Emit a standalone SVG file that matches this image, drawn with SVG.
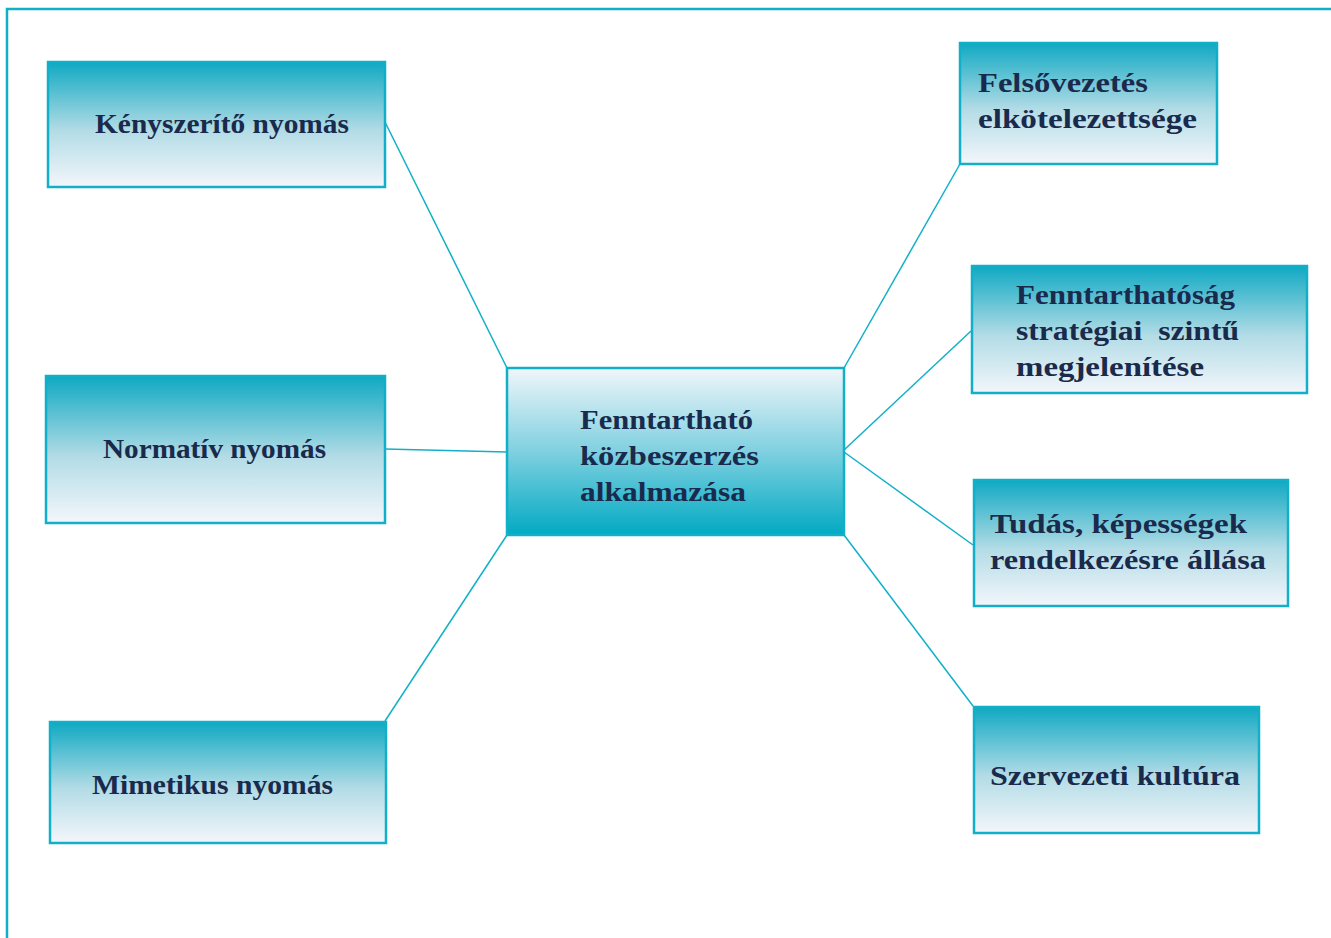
<svg xmlns="http://www.w3.org/2000/svg" width="1331" height="938" viewBox="0 0 1331 938">
<defs>
<linearGradient id="gs" x1="0" y1="0" x2="0" y2="1">
<stop offset="0" stop-color="#0FA9C3"/>
<stop offset="0.55" stop-color="#B3DCE6"/>
<stop offset="1" stop-color="#F3F6FB"/>
</linearGradient>
<linearGradient id="gc" x1="0" y1="0" x2="0" y2="1">
<stop offset="0" stop-color="#F0F6FA"/>
<stop offset="0.5" stop-color="#7FD0E0"/>
<stop offset="1" stop-color="#02AAC3"/>
</linearGradient>
<style>
.box{stroke:#12B0C8;stroke-width:2.5}
.side{fill:url(#gs)}
.ctr{fill:url(#gc)}
.t{font-family:"Liberation Serif","DejaVu Serif",serif;font-weight:bold;font-size:28px;fill:#1A2A4C}
.c{stroke:#12B0C8;stroke-width:1.5;fill:none}
</style>
</defs>
<rect width="1331" height="938" fill="#FFFFFF"/>
<path d="M7,938 V9 H1331" fill="none" stroke="#12B0C8" stroke-width="2.5"/>
<g id="connectors">
<line class="c" x1="385" y1="122" x2="507" y2="368"/>
<line class="c" x1="385" y1="449" x2="507" y2="452"/>
<line class="c" x1="385" y1="721" x2="507" y2="535"/>
<line class="c" x1="844" y1="368" x2="960" y2="164"/>
<line class="c" x1="844" y1="450" x2="971" y2="331"/>
<line class="c" x1="844" y1="452" x2="973" y2="545"/>
<line class="c" x1="844" y1="535" x2="973" y2="706"/>
</g>
<g id="node-kenyszerito">
<rect class="box side" x="48" y="62" width="337" height="125"/>
<text class="t" x="95" y="133" textLength="254" lengthAdjust="spacingAndGlyphs">Kényszerítő nyomás</text>
</g>
<g id="node-normativ">
<rect class="box side" x="46" y="376" width="339" height="147"/>
<text class="t" x="103" y="458" textLength="223" lengthAdjust="spacingAndGlyphs">Normatív nyomás</text>
</g>
<g id="node-mimetikus">
<rect class="box side" x="50" y="722" width="336" height="121"/>
<text class="t" x="92" y="794" textLength="241" lengthAdjust="spacingAndGlyphs">Mimetikus nyomás</text>
</g>
<g id="node-center">
<rect class="box ctr" x="507" y="368" width="337" height="167"/>
<text class="t" x="580" y="429" textLength="173" lengthAdjust="spacingAndGlyphs">Fenntartható</text>
<text class="t" x="580" y="465" textLength="179" lengthAdjust="spacingAndGlyphs">közbeszerzés</text>
<text class="t" x="580" y="501" textLength="166" lengthAdjust="spacingAndGlyphs">alkalmazása</text>
</g>
<g id="node-felsovezetes">
<rect class="box side" x="960" y="43" width="257" height="121"/>
<text class="t" x="978" y="92" textLength="170" lengthAdjust="spacingAndGlyphs">Felsővezetés</text>
<text class="t" x="978" y="128" textLength="219" lengthAdjust="spacingAndGlyphs">elkötelezettsége</text>
</g>
<g id="node-fenntarthatosag">
<rect class="box side" x="972" y="266" width="335" height="127"/>
<text class="t" x="1016" y="304" textLength="219" lengthAdjust="spacingAndGlyphs">Fenntarthatóság</text>
<text class="t" x="1016" y="340" textLength="223" lengthAdjust="spacingAndGlyphs" xml:space="preserve">stratégiai  szintű</text>
<text class="t" x="1016" y="376" textLength="188" lengthAdjust="spacingAndGlyphs">megjelenítése</text>
</g>
<g id="node-tudas">
<rect class="box side" x="974" y="480" width="314" height="126"/>
<text class="t" x="990" y="533" textLength="257" lengthAdjust="spacingAndGlyphs">Tudás, képességek</text>
<text class="t" x="990" y="569" textLength="276" lengthAdjust="spacingAndGlyphs">rendelkezésre állása</text>
</g>
<g id="node-szervezeti">
<rect class="box side" x="974" y="707" width="285" height="126"/>
<text class="t" x="990" y="785" textLength="250" lengthAdjust="spacingAndGlyphs">Szervezeti kultúra</text>
</g>
</svg>
